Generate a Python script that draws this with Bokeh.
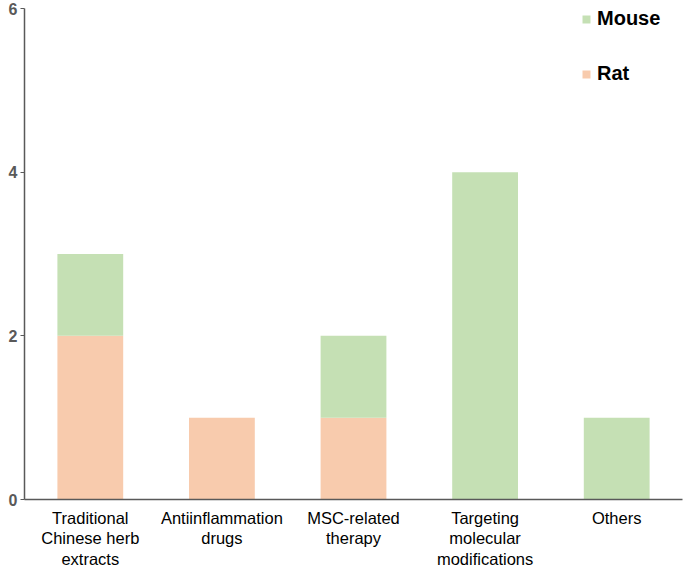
from bokeh.plotting import figure
from bokeh.models import ColumnDataSource, FactorRange, Legend, LegendItem, FixedTicker
from bokeh.embed import file_html
from bokeh.resources import INLINE

categories = ["Traditional\nChinese herb\nextracts", "Antiinflammation\ndrugs", "MSC-related\ntherapy",
              "Targeting\nmolecular\nmodifications", "Others"]
rat = [2, 1, 1, 0, 0]
mouse = [1, 0, 1, 4, 1]
y_ticks = [0, 2, 4, 6]

RAT_C = "#F8CBAD"
MOUSE_C = "#C5E0B4"
AXIS_C = "#595959"

src = ColumnDataSource(dict(cat=categories, Rat=rat, Mouse=mouse))

p = figure(x_range=FactorRange(*categories, range_padding=0), y_range=(0, 6),
           frame_width=658, frame_height=491, output_backend="svg", toolbar_location=None,
           min_border_top=8, min_border_right=1, min_border_left=24, min_border_bottom=0)

rs = p.vbar_stack(["Rat", "Mouse"], x="cat", width=0.5, source=src,
                  color=[RAT_C, MOUSE_C], line_color=None)

p.outline_line_color = None
p.xgrid.visible = False
p.ygrid.visible = False

p.yaxis.ticker = FixedTicker(ticks=y_ticks)
p.yaxis.minor_tick_line_color = None
p.yaxis.major_tick_in = 0
p.yaxis.major_tick_out = 4
p.yaxis.major_label_standoff = 3
p.yaxis.axis_line_color = AXIS_C
p.yaxis.major_tick_line_color = AXIS_C
p.yaxis.axis_line_width = 1.5
p.yaxis.major_label_text_font = "Liberation Sans"
p.yaxis.major_label_text_font_style = "bold"
p.yaxis.major_label_text_font_size = "16px"
p.yaxis.major_label_text_color = AXIS_C

p.xaxis.major_tick_line_color = None
p.xaxis.minor_tick_line_color = None
p.xaxis.axis_line_color = AXIS_C
p.xaxis.axis_line_width = 1.5
p.xaxis.major_label_text_font = "Liberation Sans"
p.xaxis.major_label_text_font_size = "16.5px"
p.xaxis.major_label_text_color = "#000000"
p.xaxis.major_label_standoff = 3
p.xaxis.major_label_text_line_height = 1.15

legend = Legend(items=[LegendItem(label="Mouse", renderers=[rs[1]]),
                       LegendItem(label="Rat", renderers=[rs[0]])],
                location=(557, 414))
legend.label_text_font = "Liberation Sans"
legend.label_text_font_style = "bold"
legend.label_text_font_size = "20px"
legend.label_text_color = "#000000"
legend.glyph_width = 10
legend.glyph_height = 10
legend.label_height = 20
legend.spacing = 32
legend.border_line_color = None
legend.background_fill_alpha = 0
legend.margin = 0
legend.padding = 0
legend.label_standoff = 6
p.add_layout(legend)

open("out.html", "w").write(file_html(p, INLINE))
